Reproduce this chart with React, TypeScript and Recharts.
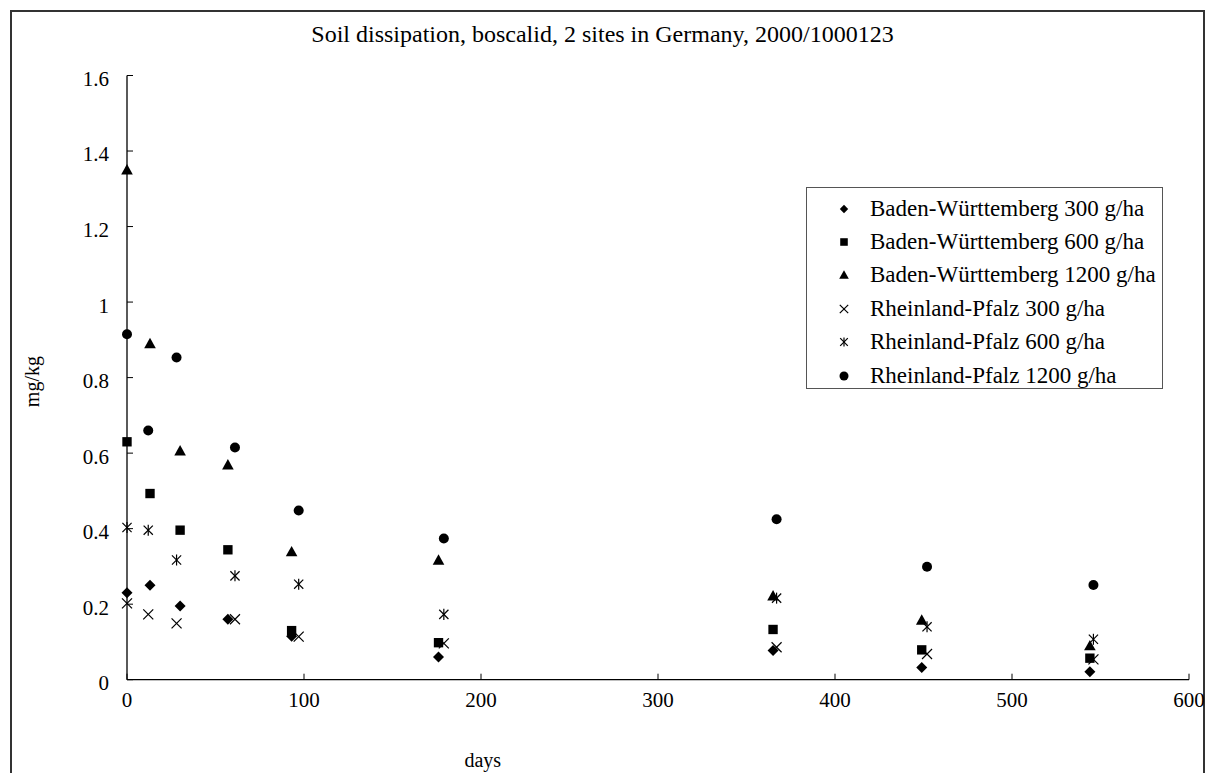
import { ScatterChart, Scatter, XAxis, YAxis, Legend } from "recharts"

// sampling days, per site
const bwDays = [0, 13, 30, 57, 93, 176, 365, 449, 544]
const rpDays = [0, 12, 28, 61, 97, 179, 367, 452, 546]

// residues in mg/kg
const bw300 = [0.23, 0.25, 0.195, 0.16, 0.115, 0.06, 0.077, 0.032, 0.021]
const bw600 = [0.63, 0.493, 0.396, 0.344, 0.13, 0.098, 0.133, 0.079, 0.057]
const bw1200 = [1.35, 0.89, 0.606, 0.569, 0.339, 0.317, 0.222, 0.158, 0.09]
const rp300 = [0.202, 0.173, 0.149, 0.16, 0.114, 0.096, 0.086, 0.068, 0.054]
const rp600 = [0.403, 0.396, 0.317, 0.275, 0.253, 0.173, 0.216, 0.14, 0.107]
const rp1200 = [0.915, 0.66, 0.853, 0.615, 0.448, 0.374, 0.425, 0.299, 0.251]

const xTicks = [0, 100, 200, 300, 400, 500, 600]
const yTicks = [0, 0.2, 0.4, 0.6, 0.8, 1, 1.2, 1.4, 1.6]

const FONT = "'Liberation Serif', 'Times New Roman', serif"

type Kind = "diamond" | "square" | "triangle" | "x" | "star" | "circle"

const zip = (days: number[], vals: number[]) => days.map((day, i) => ({ day, value: vals[i] }))

const series: { name: string; kind: Kind; data: { day: number; value: number }[] }[] = [
  { name: "Baden-Württemberg 300 g/ha", kind: "diamond", data: zip(bwDays, bw300) },
  { name: "Baden-Württemberg 600 g/ha", kind: "square", data: zip(bwDays, bw600) },
  { name: "Baden-Württemberg 1200 g/ha", kind: "triangle", data: zip(bwDays, bw1200) },
  { name: "Rheinland-Pfalz 300 g/ha", kind: "x", data: zip(rpDays, rp300) },
  { name: "Rheinland-Pfalz 600 g/ha", kind: "star", data: zip(rpDays, rp600) },
  { name: "Rheinland-Pfalz 1200 g/ha", kind: "circle", data: zip(rpDays, rp1200) },
]

function Marker({ kind, cx, cy, r }: { kind: Kind; cx: number; cy: number; r: number }) {
  switch (kind) {
    case "diamond":
      return <path d={`M${cx},${cy - r}L${cx + r},${cy}L${cx},${cy + r}L${cx - r},${cy}Z`} fill="#000" />
    case "square":
      return <rect x={cx - r * 0.9} y={cy - r * 0.9} width={r * 1.8} height={r * 1.8} fill="#000" />
    case "triangle":
      return <path d={`M${cx},${cy - r}L${cx + r},${cy + r * 0.8}L${cx - r},${cy + r * 0.8}Z`} fill="#000" />
    case "x":
      return (
        <g stroke="#000" strokeWidth={1.2}>
          <line x1={cx - r} y1={cy - r} x2={cx + r} y2={cy + r} />
          <line x1={cx - r} y1={cy + r} x2={cx + r} y2={cy - r} />
        </g>
      )
    case "star":
      return (
        <g stroke="#000" strokeWidth={1.2}>
          <line x1={cx - r} y1={cy - r} x2={cx + r} y2={cy + r} />
          <line x1={cx - r} y1={cy + r} x2={cx + r} y2={cy - r} />
          <line x1={cx} y1={cy - r * 1.2} x2={cx} y2={cy + r * 1.2} />
        </g>
      )
    default:
      return <circle cx={cx} cy={cy} r={r} fill="#000" />
  }
}

const plotSize: Record<Kind, number> = { diamond: 5.5, square: 5.2, triangle: 5.8, x: 5, star: 4.6, circle: 5 }
const legendSize: Record<Kind, number> = { diamond: 4.2, square: 4.2, triangle: 4.8, x: 4.2, star: 3.8, circle: 4.5 }

function renderLegend(props: any) {
  // keep the order the series were declared in
  const items = [...(props.payload || [])].sort(
    (a: any, b: any) => series.findIndex((s) => s.name === a.value) - series.findIndex((s) => s.name === b.value)
  )
  return (
    <div
      style={{
        border: "1.5px solid #555",
        background: "#fff",
        boxSizing: "border-box",
        width: 357,
        height: 202,
        padding: "4px 0 0 0",
        fontFamily: FONT,
        fontSize: 23,
        color: "#000",
      }}
    >
      {items.map((entry: any) => {
        const s = series.find((d) => d.name === entry.value)
        return (
          <div key={entry.value} style={{ display: "flex", alignItems: "center", height: 33.4 }}>
            <svg width={20} height={20} style={{ marginLeft: 27, marginRight: 16, flexShrink: 0 }}>
              {s && <Marker kind={s.kind} cx={10} cy={10} r={legendSize[s.kind]} />}
            </svg>
            <span style={{ whiteSpace: "nowrap" }}>{entry.value}</span>
          </div>
        )
      })}
    </div>
  )
}

export default function App() {
  return (
    <div style={{ position: "fixed", left: 0, top: 0, width: 1208, height: 773, background: "#fff", fontFamily: FONT }}>
      <div
        style={{
          position: "absolute",
          left: 10,
          top: 10,
          width: 1195,
          height: 800,
          border: "2px solid #333",
          boxSizing: "border-box",
        }}
      />
      <div
        style={{
          position: "absolute",
          left: 0,
          top: 21,
          width: 1205,
          textAlign: "center",
          fontSize: 24,
          color: "#000",
        }}
      >
        Soil dissipation, boscalid, 2 sites in Germany, 2000/1000123
      </div>
      <ScatterChart width={1208} height={773} margin={{ top: 75.5, right: 19, bottom: 53.3, left: 27 }}>
        <XAxis
          type="number"
          dataKey="day"
          domain={[0, 600]}
          ticks={xTicks}
          height={40}
          tickSize={-6}
          tickMargin={18}
          axisLine={{ stroke: "#000", strokeWidth: 1.3 }}
          tickLine={{ stroke: "#000" }}
          tick={{ fill: "#000", fontSize: 21, fontFamily: FONT }}
          label={{
            content: (p: any) => (
              <text x={p.viewBox.x + p.viewBox.width * 0.335} y={p.viewBox.y + 87} textAnchor="middle" fontSize={20} fontFamily={FONT} fill="#000">
                days
              </text>
            ),
          }}
        />
        <YAxis
          type="number"
          dataKey="value"
          domain={[0, 1.6]}
          ticks={yTicks}
          width={100}
          tickSize={-6}
          tickMargin={24}
          axisLine={{ stroke: "#000", strokeWidth: 1.3 }}
          tickLine={{ stroke: "#000" }}
          tick={{ fill: "#000", fontSize: 21, fontFamily: FONT, dy: 3 }}
          label={{
            content: (p: any) => {
              const x = p.viewBox.x + 12
              const y = p.viewBox.y + p.viewBox.height / 2 + 4
              return (
                <text x={x} y={y} transform={`rotate(-90 ${x} ${y})`} textAnchor="middle" fontSize={20} fontFamily={FONT} fill="#000">
                  mg/kg
                </text>
              )
            },
          }}
        />
        <Legend
          layout="vertical"
          verticalAlign="middle"
          align="center"
          content={renderLegend}
          wrapperStyle={{ position: "absolute", left: 806, top: 187, width: 357, height: 202 }}
        />
        {series.map((s) => (
          <Scatter
            key={s.name}
            name={s.name}
            data={s.data}
            fill="#000"
            isAnimationActive={false}
            shape={(p: any) => <Marker kind={s.kind} cx={p.cx} cy={p.cy} r={plotSize[s.kind]} />}
          />
        ))}
      </ScatterChart>
    </div>
  )
}
